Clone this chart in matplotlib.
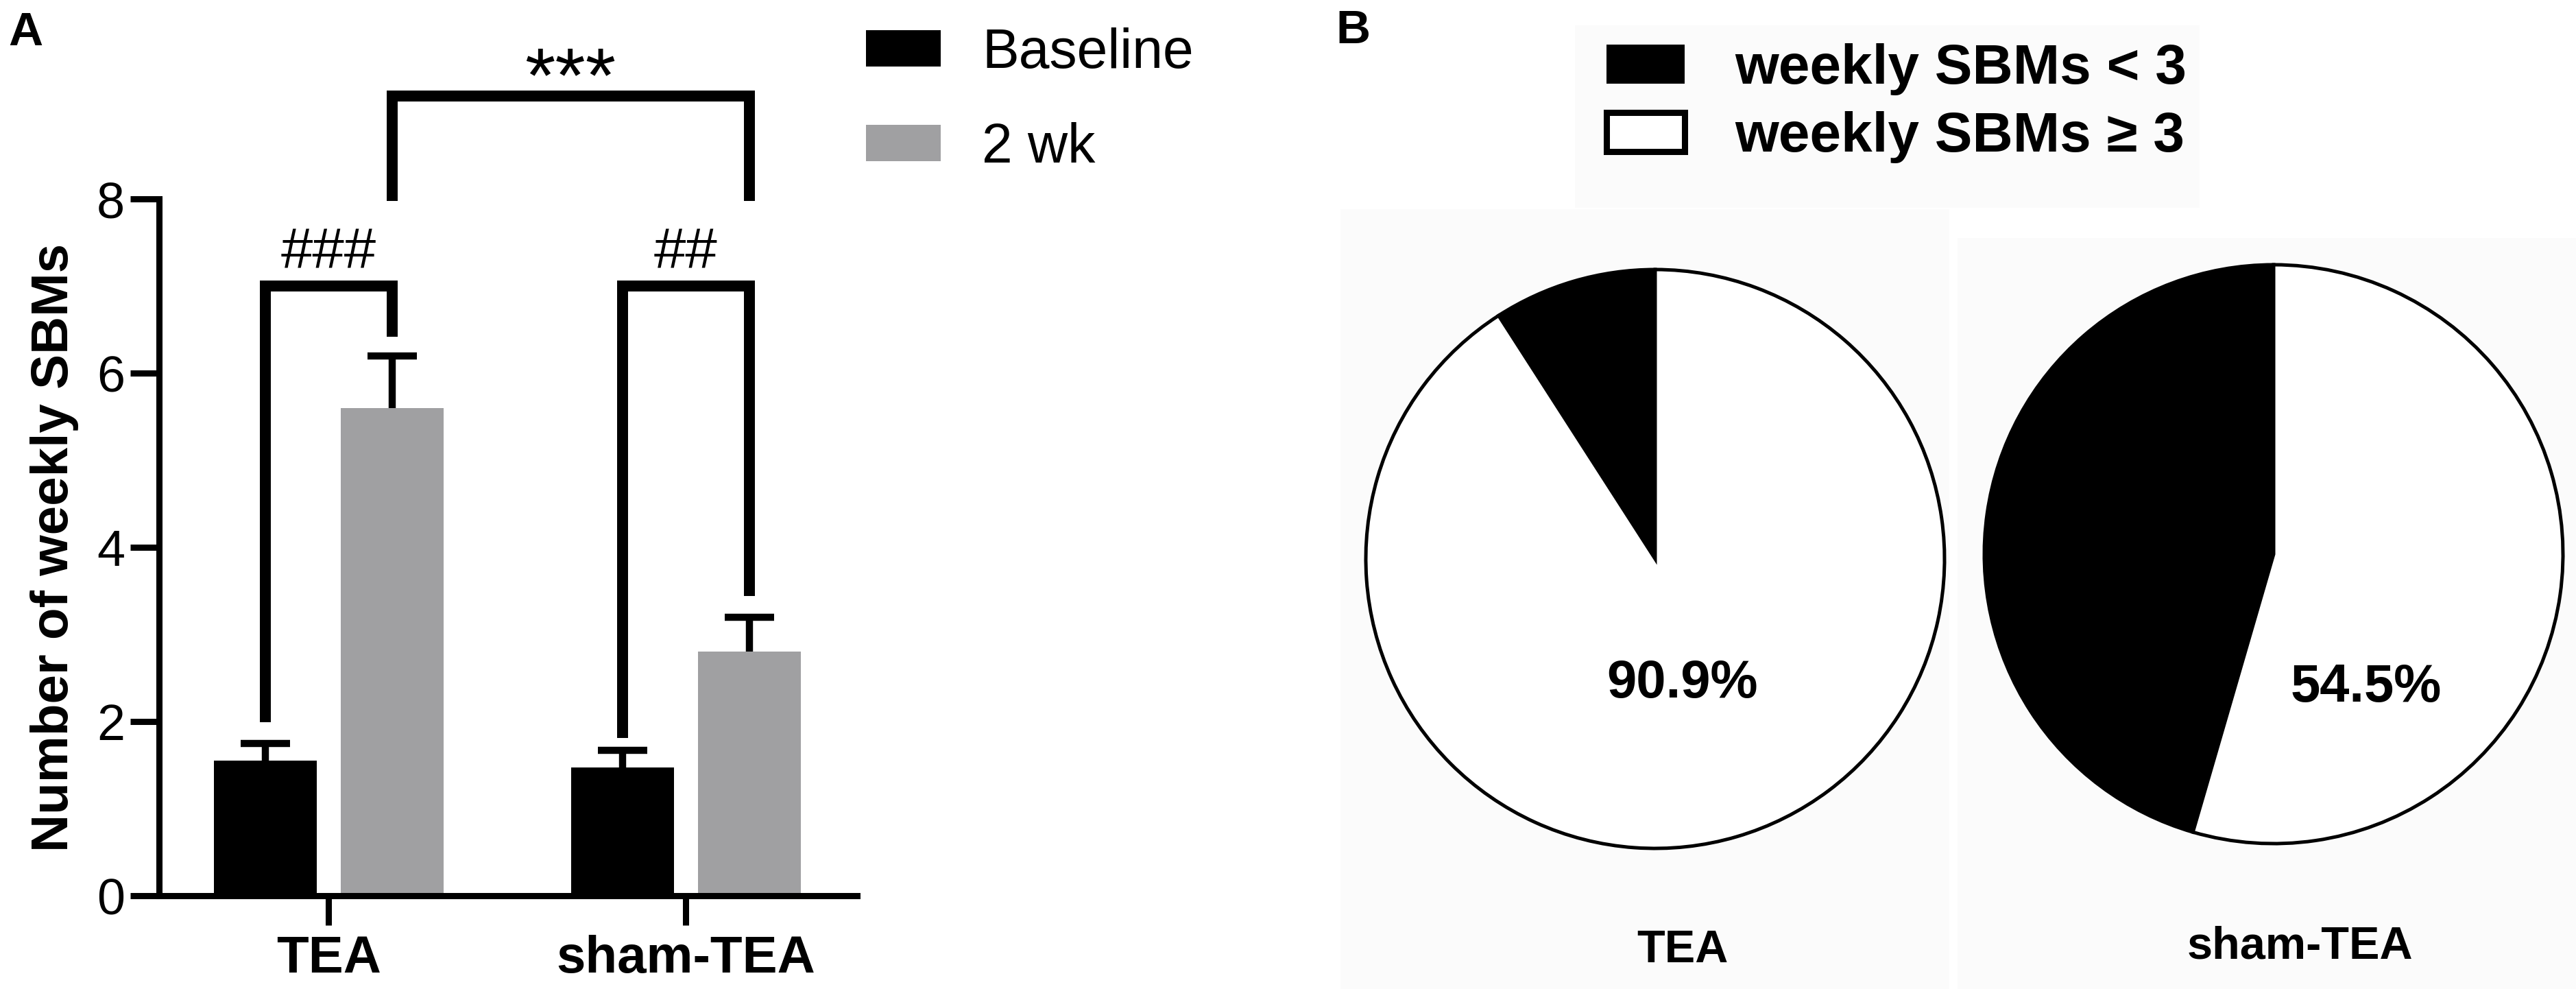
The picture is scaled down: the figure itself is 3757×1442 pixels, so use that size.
import matplotlib
matplotlib.use("Agg")
import matplotlib.pyplot as plt
import numpy as np
from matplotlib.patches import Patch, Rectangle

plt.rcParams['font.family'] = ['Liberation Sans', 'DejaVu Sans']

# ---------------- data ----------------
groups = ['TEA', 'sham-TEA']
series_names = ['Baseline', '2 wk']
baseline_mean = [1.55, 1.47]
baseline_sem = [0.20, 0.20]
wk2_mean = [5.60, 2.80]
wk2_sem = [0.60, 0.40]
y_ticks = [0, 2, 4, 6, 8]

pie_labels = ['weekly SBMs < 3', 'weekly SBMs \u2265 3']
pie_groups = ['TEA', 'sham-TEA']
pie_tea = [9.1, 90.9]
pie_sham = [45.5, 54.5]
pie_pct_text = ['90.9%', '54.5%']

# ---------------- figure ----------------
W, H = 3757, 1442
fig = plt.figure(figsize=(W / 100, H / 100), dpi=100)
fig.patch.set_facecolor('white')

def fx(px):
    return px / W

def fy(py):
    return 1 - py / H

# faint background panels in B
for (x0, y0, x1, y1) in [(2297, 37, 3208, 303), (1955, 305, 2843, 1442), (2855, 347, 3757, 1442)]:
    fig.patches.append(Rectangle((fx(x0), fy(y1)), fx(x1) - fx(x0), fy(y0) - fy(y1),
                                 transform=fig.transFigure, facecolor='#fbfbfb',
                                 edgecolor='none', zorder=-5))

# ---------------- Panel A ----------------
axL, axR, axT, axB = 232, 1250, 290, 1306
ax = fig.add_axes([fx(axL), fy(axB), fx(axR) - fx(axL), fy(axT) - fy(axB)])
ax.set_facecolor('none')

x = np.arange(len(groups))
off = 0.177
bw = 0.288
gray = '#a0a0a2'

ax.bar(x - off, baseline_mean, bw, color='black', label=series_names[0], zorder=2)
ax.bar(x + off, wk2_mean, bw, color=gray, label=series_names[1], zorder=2)
for xs, m, e in [(x - off, baseline_mean, baseline_sem), (x + off, wk2_mean, wk2_sem)]:
    _, caps, _ = ax.errorbar(xs, m, yerr=[np.zeros(len(x)), e], fmt='none',
                             ecolor='black', elinewidth=7.5, capsize=26,
                             capthick=7.5, zorder=3)
    caps[0].set_visible(False)   # only upper caps, as in the reference

ax.set_xlim(-0.475, 1.479)
ax.set_ylim(0, 8)
ax.set_yticks(y_ticks)
ax.set_yticklabels([str(t) for t in y_ticks], fontsize=53)
ax.set_xticks(x)
ax.set_xticklabels(groups, fontsize=55, fontweight='bold')
for s in ['top', 'right']:
    ax.spines[s].set_visible(False)
for s in ['left', 'bottom']:
    ax.spines[s].set_linewidth(6.5)
ax.tick_params(axis='y', length=30, width=6.5, pad=6)
ax.tick_params(axis='x', length=31, width=6.5, pad=10)
ax.set_ylabel('Number of weekly SBMs', fontsize=55, fontweight='bold')
ax.yaxis.set_label_coords(-0.115, 0.5)

# significance brackets
blw = 11.5
kw = dict(color='black', lw=blw, clip_on=False, solid_joinstyle='miter',
          solid_capstyle='butt', zorder=4)
ax.plot([x[0] - off, x[0] - off, x[0] + off, x[0] + off], [1.99, 7.0, 7.0, 6.42], **kw)
ax.plot([x[1] - off, x[1] - off, x[1] + off, x[1] + off], [1.81, 7.0, 7.0, 3.44], **kw)
ax.plot([x[0] + off, x[0] + off, x[1] + off, x[1] + off], [7.98, 9.18, 9.18, 7.98], **kw)
ax.text(x[0], 7.2, '###', fontsize=60, ha='center', va='baseline', clip_on=False)
ax.text(x[1], 7.2, '##', fontsize=60, ha='center', va='baseline', clip_on=False)
ax.text((x[0] + x[1]) / 2 + off, 9.12, '***', fontsize=82, ha='center', va='baseline',
        clip_on=False)

fig.legend(handles=[Patch(facecolor='black', edgecolor='none'),
                    Patch(facecolor=gray, edgecolor='none')],
           labels=series_names, loc='upper left',
           bbox_to_anchor=(fx(1263), fy(40)), frameon=False, fontsize=58,
           handlelength=1.35, handleheight=0.63, handletextpad=0.75,
           labelspacing=0.77, borderpad=0, borderaxespad=0)

fig.text(fx(12), fy(48), 'A', fontsize=50, fontweight='bold', ha='left', va='center')

# ---------------- Panel B ----------------
fig.text(fx(1948), fy(45), 'B', fontsize=50, fontweight='bold', ha='left', va='center')

r = 422
pie_centers = [(2414, 815), (3316, 808)]
pie_data = [pie_tea, pie_sham]
label_pos = [(0.094, -0.43), (0.32, -0.46)]
label_px = [(2454, 1386), (3354, 1380)]
for (cx, cy), vals, pct, lp, name, lpx in zip(pie_centers, pie_data, pie_pct_text,
                                            label_pos, pie_groups, label_px):
    pa = fig.add_axes([fx(cx - r), fy(cy + r), fx(2 * r), (2 * r) / H])
    pa.pie(vals, colors=['black', 'white'], startangle=90, counterclock=True,
           wedgeprops=dict(edgecolor='black', linewidth=3.6))
    pa.set_xlim(-1.0, 1.0)
    pa.set_ylim(-1.0, 1.0)
    pa.set_aspect('auto')
    pa.axis('off')
    for p in pa.patches:
        p.set_clip_on(False)
    pa.text(lp[0], lp[1], pct, fontsize=56, fontweight='bold', ha='center', va='center')
    fig.text(fx(lpx[0]), fy(lpx[1]), name, fontsize=48, fontweight='bold',
             ha='center', va='center')

fig.legend(handles=[Patch(facecolor='black', edgecolor='none'),
                    Patch(facecolor='white', edgecolor='black', linewidth=6.5)],
           labels=pie_labels, loc='upper left',
           bbox_to_anchor=(fx(2343), fy(63)), frameon=False,
           prop=dict(size=59, weight='bold'),
           handlelength=1.39, handleheight=0.69, handletextpad=0.9,
           labelspacing=0.28, borderpad=0, borderaxespad=0)

fig.savefig('out.png', dpi=100, facecolor='white')
